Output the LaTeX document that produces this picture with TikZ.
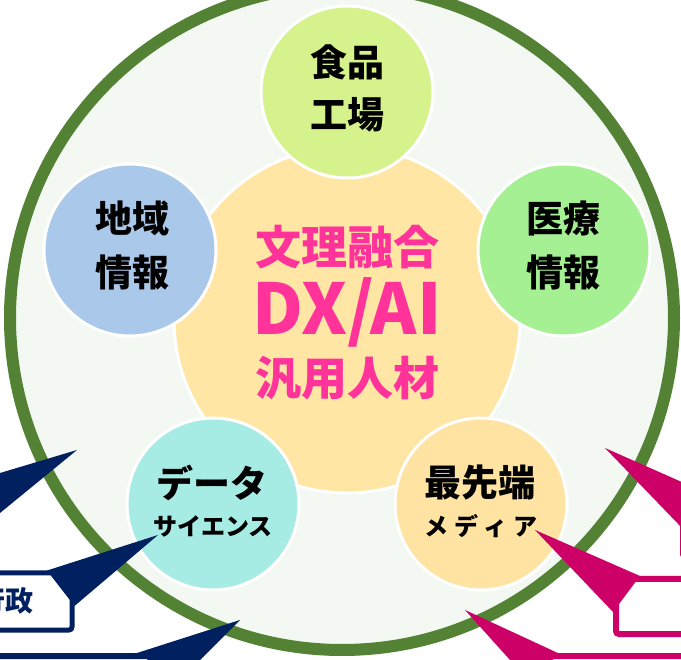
\documentclass[tikz,border=0pt]{standalone}
\usepackage{fontspec}
\setmainfont{Noto Sans CJK JP}
\definecolor{ringgreen}{HTML}{548235}
\definecolor{bgfill}{HTML}{F4F8F2}
\definecolor{hubfill}{HTML}{FFE6A5}
\definecolor{hubpink}{HTML}{FF3399}
\definecolor{foodfill}{HTML}{D6F28C}
\definecolor{regionfill}{HTML}{AAC8EA}
\definecolor{medfill}{HTML}{A5F092}
\definecolor{datafill}{HTML}{A6ECE5}
\definecolor{mediafill}{HTML}{FFE3A3}
\definecolor{navy}{HTML}{002060}
\definecolor{mag}{HTML}{CC0066}
\begin{document}
\begin{tikzpicture}[x=1pt,y=-1pt,
  petal/.style={circle, draw=white, line width=3pt, minimum size=172pt, inner sep=0pt},
  lbl/.style={font=\bfseries\fontsize{37}{37}\selectfont, text=black, inner sep=0pt},
  sublbl/.style={font=\bfseries\fontsize{24}{24}\selectfont, text=black, inner sep=0pt},
  hubtxt/.style={font=\bfseries\fontsize{46}{46}\selectfont, text=hubpink, inner sep=0pt},
  boxline/.style={line width=6pt, fill=white, rounded corners=3pt}]
\useasboundingbox (0,0) rectangle (681,660);
\clip (0,0) rectangle (681,660);
% outer ring
\node[circle, draw=ringgreen, fill=bgfill, line width=12pt, minimum size=664pt, inner sep=0pt] (ring) at (342,318) {};
% hub
\node[circle, draw=white, fill=hubfill, line width=3pt, minimum size=346pt, inner sep=0pt] (hub) at (347,320) {};
% petals
\node[petal, fill=foodfill]   (food)   at (347,92)  {};
\node[petal, fill=regionfill] (region) at (130,250) {};
\node[petal, fill=medfill]    (med)    at (564,250) {};
\node[petal, fill=datafill]   (data)   at (213,504) {};
\node[petal, fill=mediafill]  (media)  at (481,504) {};
% hub text
\node[hubtxt] (h1) at (347,247) {文理融合};
\node[font=\bfseries\fontsize{70}{70}\selectfont, text=hubpink, inner sep=0pt, anchor=base] (h2) at (347,335) {DX/AI};
\node[hubtxt] (h3) at (347,378) {汎用人材};
% petal text
\node[lbl] (food1) at (347,62)  {食品};
\node[lbl] (food2) at (347,115) {工場};
\node[lbl] (reg1)  at (132,218) {地域};
\node[lbl] (reg2)  at (132,272) {情報};
\node[lbl] (med1)  at (563,218) {医療};
\node[lbl] (med2)  at (563,272) {情報};
\node[lbl] (data1) at (212,483) {データ};
\node[sublbl] (data2) at (213,526) {サイエンス};
\node[lbl] (media1) at (480,483) {最先端};
\node[sublbl] (media2) at (481,526) {メ\hspace{6pt}デ\hspace{5pt}ィ\hspace{6pt}ア};
% navy callouts (left)
\fill[navy] (0,473) -- (77,450) -- (0,513) -- cycle;
\draw[navy, line width=5pt, fill=white, rounded corners=3pt] (-60,573) rectangle (72,630);
\fill[navy] (47,570.5) -- (158,535) -- (74.5,606) -- cycle;
\node[font=\bfseries\fontsize{28}{28}\selectfont, text=navy, inner sep=0pt] (gyosei) at (5,601) {行政};
\draw[navy, boxline] (-60,656) rectangle (170,800);
\fill[navy] (240,620) -- (137,653) -- (180,680) -- cycle;
% magenta callouts (right)
\draw[mag, boxline] (683,482) rectangle (800,557);
\fill[mag] (605,448) -- (684,483) -- (684,530) -- cycle;
\draw[mag, boxline] (616,579) rectangle (760,634);
\fill[mag] (535,530) -- (640,576) -- (613,612) -- cycle;
\draw[mag, boxline] (540,656) rectangle (900,800);
\fill[mag] (465,610) -- (560,654) -- (528,680) -- cycle;
\end{tikzpicture}
\end{document}
